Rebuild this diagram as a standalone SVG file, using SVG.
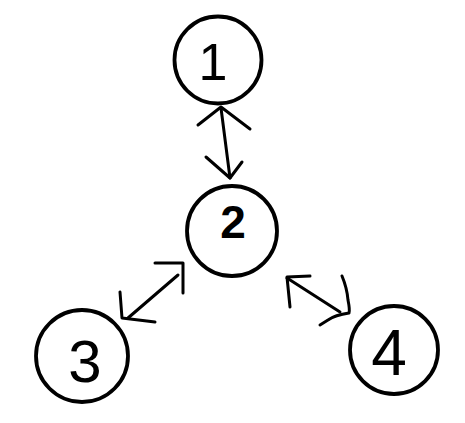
<svg xmlns="http://www.w3.org/2000/svg" width="465" height="423" viewBox="0 0 465 423">
<style>
.ring{fill:none;stroke:#000;stroke-width:3.8}
.lbl{font-family:"Liberation Sans",Arial,sans-serif;fill:#000;text-anchor:middle}
.ln{fill:none;stroke:#000;stroke-width:3;stroke-linecap:round;stroke-linejoin:round}
</style>
<rect width="465" height="423" fill="#fff"/>
<g id="node-1">
<circle class="ring" cx="218" cy="60" r="43.5"/>
<text class="lbl" x="213" y="80" font-size="52">1</text>
</g>
<g id="node-2">
<circle class="ring" cx="232" cy="231" r="45"/>
<text class="lbl" x="233" y="238" font-size="46" font-weight="bold">2</text>
</g>
<g id="node-3">
<circle class="ring" cx="82" cy="356" r="46"/>
<text class="lbl" x="85" y="382" font-size="60">3</text>
</g>
<g id="node-4">
<circle class="ring" cx="394" cy="350" r="44"/>
<text class="lbl" x="389" y="375" font-size="64">4</text>
</g>
<g id="connectors">
<path class="ln" d="M221,108 L230,178"/>
<path class="ln" d="M198,125 L221,107 L250,129"/>
<path class="ln" d="M206,157 L230,178 L242,162"/>
<path class="ln" d="M128,318 L178,275"/>
<path class="ln" d="M155,263 L183,263 L183,293"/>
<path class="ln" d="M120,292 L122,318 L155,322"/>
<path class="ln" d="M287,278 L340,312"/>
<path class="ln" d="M310,276 L287,277 L290,307"/>
<path class="ln" d="M342,276 Q347,288 348,300 Q350,310 349,313 Q335,315 328,320 L320,325"/>
</g>
</svg>
